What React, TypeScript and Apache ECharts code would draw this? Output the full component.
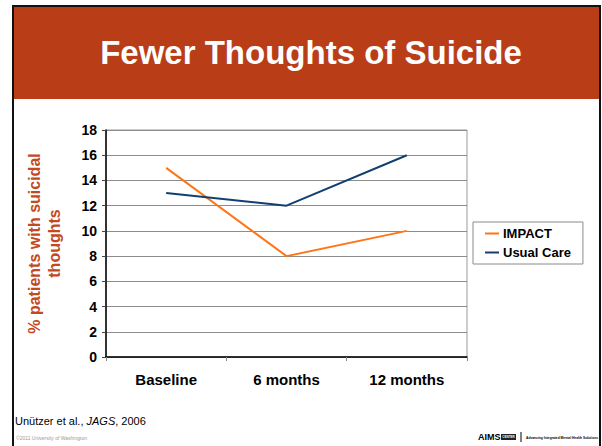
import React, { useEffect, useRef } from "react";
import * as echarts from "echarts";

const categories = ["Baseline", "6 months", "12 months"];
const impactValues = [15, 8, 10];
const usualCareValues = [13, 12, 16];
const seriesNames = ["IMPACT", "Usual Care"];
const yTicks = { min: 0, max: 18, interval: 2 };

const FONT = "'Liberation Sans', Arial, sans-serif";

export default function App() {
  const ref = useRef<HTMLDivElement>(null);

  useEffect(() => {
    if (!ref.current) return;
    const chart = echarts.init(ref.current, null, { renderer: "svg" });
    chart.setOption({
      animation: false,
      backgroundColor: "#ffffff",
      textStyle: { fontFamily: FONT },
      grid: {
        left: 106,
        right: 135,
        top: 130,
        bottom: 89,
        show: true,
        borderColor: "#9a9a9a",
        borderWidth: 1,
      },
      legend: {
        orient: "vertical",
        left: 473,
        top: 222,
        padding: [5, 12, 5, 12],
        itemGap: 6,
        itemWidth: 14,
        itemHeight: 2,
        borderColor: "#8a8a8a",
        borderWidth: 1,
        icon: "rect",
        data: seriesNames,
        textStyle: {
          fontFamily: FONT,
          fontWeight: "bold",
          fontSize: 13,
          color: "#000",
          padding: [0, 0, 0, -1],
        },
      },
      xAxis: {
        type: "category",
        data: categories,
        boundaryGap: true,
        axisLine: { lineStyle: { color: "#000", width: 1.5 } },
        axisTick: { show: true, length: 4, lineStyle: { color: "#888" } },
        axisLabel: {
          fontFamily: FONT,
          fontWeight: "bold",
          fontSize: 15,
          color: "#000",
          margin: 15,
        },
      },
      yAxis: {
        type: "value",
        min: yTicks.min,
        max: yTicks.max,
        interval: yTicks.interval,
        name: "% patients with suicidal\nthoughts",
        nameLocation: "middle",
        nameGap: 42,
        nameRotate: 90,
        nameTextStyle: {
          fontFamily: FONT,
          fontWeight: "bold",
          fontSize: 16,
          color: "#c24a1e",
          lineHeight: 20,
        },
        axisLine: { show: true, lineStyle: { color: "#000", width: 1.5 } },
        axisTick: { show: true, length: 4, lineStyle: { color: "#444" } },
        axisLabel: {
          fontFamily: FONT,
          fontWeight: "bold",
          fontSize: 14,
          color: "#000",
          margin: 9,
        },
        splitLine: { lineStyle: { color: "#8c8c8c", width: 1 } },
      },
      series: [
        {
          name: seriesNames[0],
          type: "line",
          data: impactValues,
          symbol: "none",
          lineStyle: { color: "#ff7415", width: 2 },
          itemStyle: { color: "#ff7415" },
        },
        {
          name: seriesNames[1],
          type: "line",
          data: usualCareValues,
          symbol: "none",
          lineStyle: { color: "#123f72", width: 2 },
          itemStyle: { color: "#123f72" },
        },
      ],
      graphic: [
        {
          type: "rect",
          shape: { x: 13, y: 6, width: 587, height: 445 },
          style: { fill: "none", stroke: "#111", lineWidth: 2 },
          silent: true,
        },
        {
          type: "rect",
          shape: { x: 14, y: 7, width: 585, height: 92 },
          style: { fill: "#b93d17" },
          silent: true,
        },
        {
          type: "text",
          x: 311,
          y: 52,
          style: {
            text: "Fewer Thoughts of Suicide",
            fill: "#ffffff",
            font: `bold 33px ${FONT}`,
            align: "center",
            verticalAlign: "middle",
          },
          silent: true,
        },
        {
          type: "text",
          x: 15,
          y: 421,
          style: {
            text: "{a|Unützer et al., }{b|JAGS}{a|, 2006}",
            verticalAlign: "middle",
            rich: {
              a: { fontFamily: FONT, fontSize: 11, fill: "#000" },
              b: { fontFamily: FONT, fontSize: 11, fontStyle: "italic", fill: "#000" },
            },
          },
          silent: true,
        },
        {
          type: "text",
          x: 16,
          y: 438,
          style: {
            text: "©2011 University of Washington",
            fill: "#9a9a9a",
            font: `5px ${FONT}`,
            verticalAlign: "middle",
          },
          silent: true,
        },
        // AIMS Center logo line at the bottom right
        {
          type: "text",
          x: 478,
          y: 437,
          style: {
            text: "AIMS",
            fill: "#000",
            font: `bold 9px ${FONT}`,
            verticalAlign: "middle",
          },
          silent: true,
        },
        {
          type: "rect",
          shape: { x: 501, y: 434, width: 15, height: 6 },
          style: { fill: "#222" },
          silent: true,
        },
        {
          type: "text",
          x: 508.5,
          y: 437,
          style: {
            text: "CENTER",
            fill: "#fff",
            font: `bold 3px ${FONT}`,
            align: "center",
            verticalAlign: "middle",
          },
          silent: true,
        },
        {
          type: "line",
          shape: { x1: 521, y1: 432, x2: 521, y2: 442 },
          style: { stroke: "#000", lineWidth: 1 },
          silent: true,
        },
        {
          type: "text",
          x: 526,
          y: 437.5,
          style: {
            text: "Advancing Integrated Mental Health Solutions",
            fill: "#000",
            font: `bold 3.3px ${FONT}`,
            verticalAlign: "middle",
          },
          silent: true,
        },
      ],
    });
    return () => chart.dispose();
  }, []);

  return (
    <div
      ref={ref}
      style={{ position: "fixed", left: 0, top: 0, width: 602, height: 446 }}
    />
  );
}
